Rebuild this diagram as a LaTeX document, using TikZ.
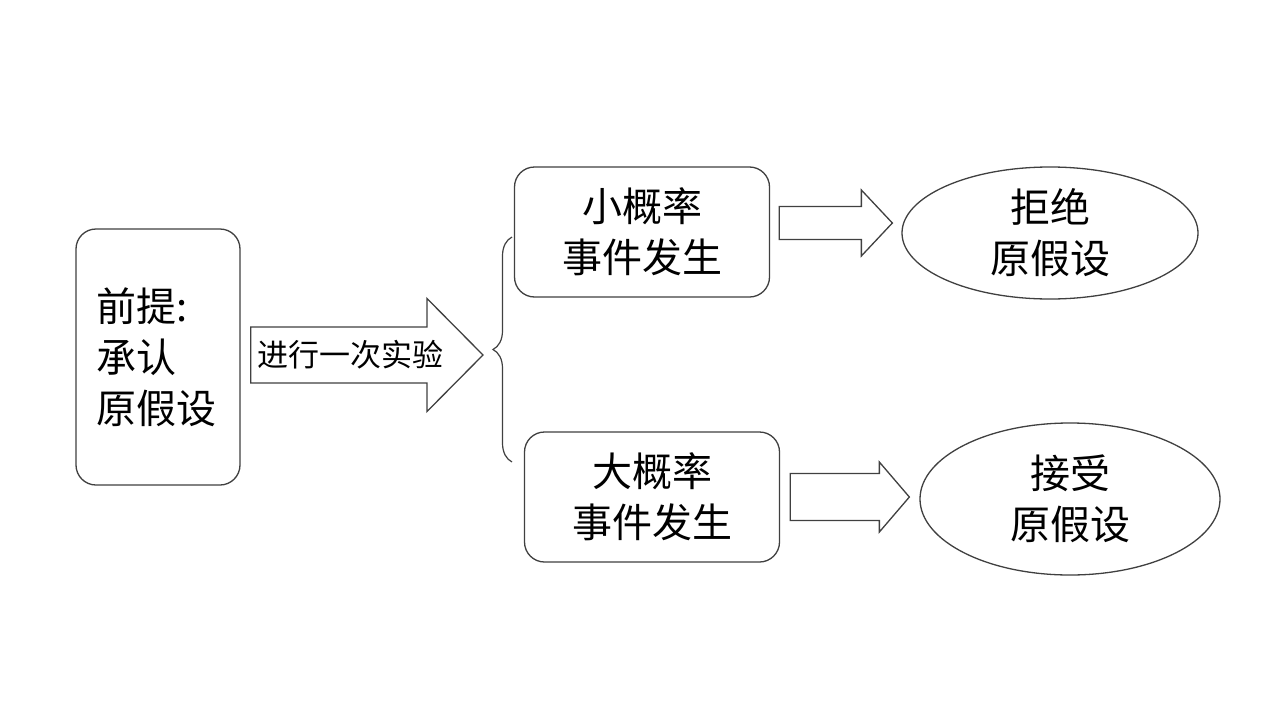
\documentclass[tikz,border=0pt]{standalone}
\usepackage{fontspec}
\setmainfont{Noto Sans CJK SC}
\usetikzlibrary{calc,shapes.geometric,decorations.pathreplacing}
\newcommand{\blockarrow}[5]{%
  \draw[arrowline] let \p1=(#1), \p2=(#2) in
    (\x1,\y1+#3) -- (\x2-#5,\y1+#3) -- (\x2-#5,\y1+#4) -- (\x2,\y1)
    -- (\x2-#5,\y1-#4) -- (\x2-#5,\y1-#3) -- (\x1,\y1-#3) -- cycle;}
\begin{document}
\begin{tikzpicture}[x=1pt,y=-1pt,
  line/.style={draw=black!75, line width=1.3pt},
  rbox/.style={line, rectangle, rounded corners=20pt, inner sep=0pt,
    font=\fontsize{40}{51}\selectfont, align=center},
  oval/.style={line, ellipse, inner sep=0pt,
    font=\fontsize{40}{51}\selectfont, align=center},
  arrowline/.style={line, fill=white},
  lbl/.style={font=\fontsize{31}{36}\selectfont, inner sep=0pt}]
\useasboundingbox[fill=white] (0,0) rectangle (1280,715);

% premise box
\node[rbox, text width=124pt, inner xsep=20pt, minimum height=256pt, align=left]
  (pre) at (158,357) {前提:\\承认\\原假设};

% middle boxes
\node[rbox, minimum width=255pt, minimum height=130pt] (s1) at (642,232) {小概率\\事件发生};
\node[rbox, minimum width=255pt, minimum height=130pt] (s2) at (652,497) {大概率\\事件发生};

% ellipses
\node[oval, minimum width=296pt, minimum height=132pt] (e1) at (1050,233) {拒绝\\原假设};
\node[oval, minimum width=300pt, minimum height=152pt] (e2) at (1070,499) {接受\\原假设};

% brace
\coordinate (bb) at (512,462);
\coordinate (bt) at (512,237);
\draw[line, line width=1.2pt, decorate, decoration={brace, amplitude=19pt}] (bb) -- (bt);

% big arrow
\coordinate (a0s) at ($(pre.east)+(10,-2)$);
\coordinate (a0e) at ($(bt)!0.5!(bb)+(-29,0)$);
\blockarrow{a0s}{a0e}{28pt}{56.5pt}{56pt}
\node[lbl, anchor=west] (lab) at (257,355) {进行一次实验};

% small arrows
\coordinate (a1s) at ($(s1.east)+(9,-9)$);
\coordinate (a1e) at ($(e1.west)+(-9,0)$);
\blockarrow{a1s}{a1e}{16.5pt}{33pt}{31pt}
\coordinate (a2s) at ($(s2.east)+(10,0)$);
\coordinate (a2e) at ($(e2.west)+(-10,0)$);
\blockarrow{a2s}{a2e}{23.5pt}{35pt}{30pt}
\end{tikzpicture}
\end{document}
